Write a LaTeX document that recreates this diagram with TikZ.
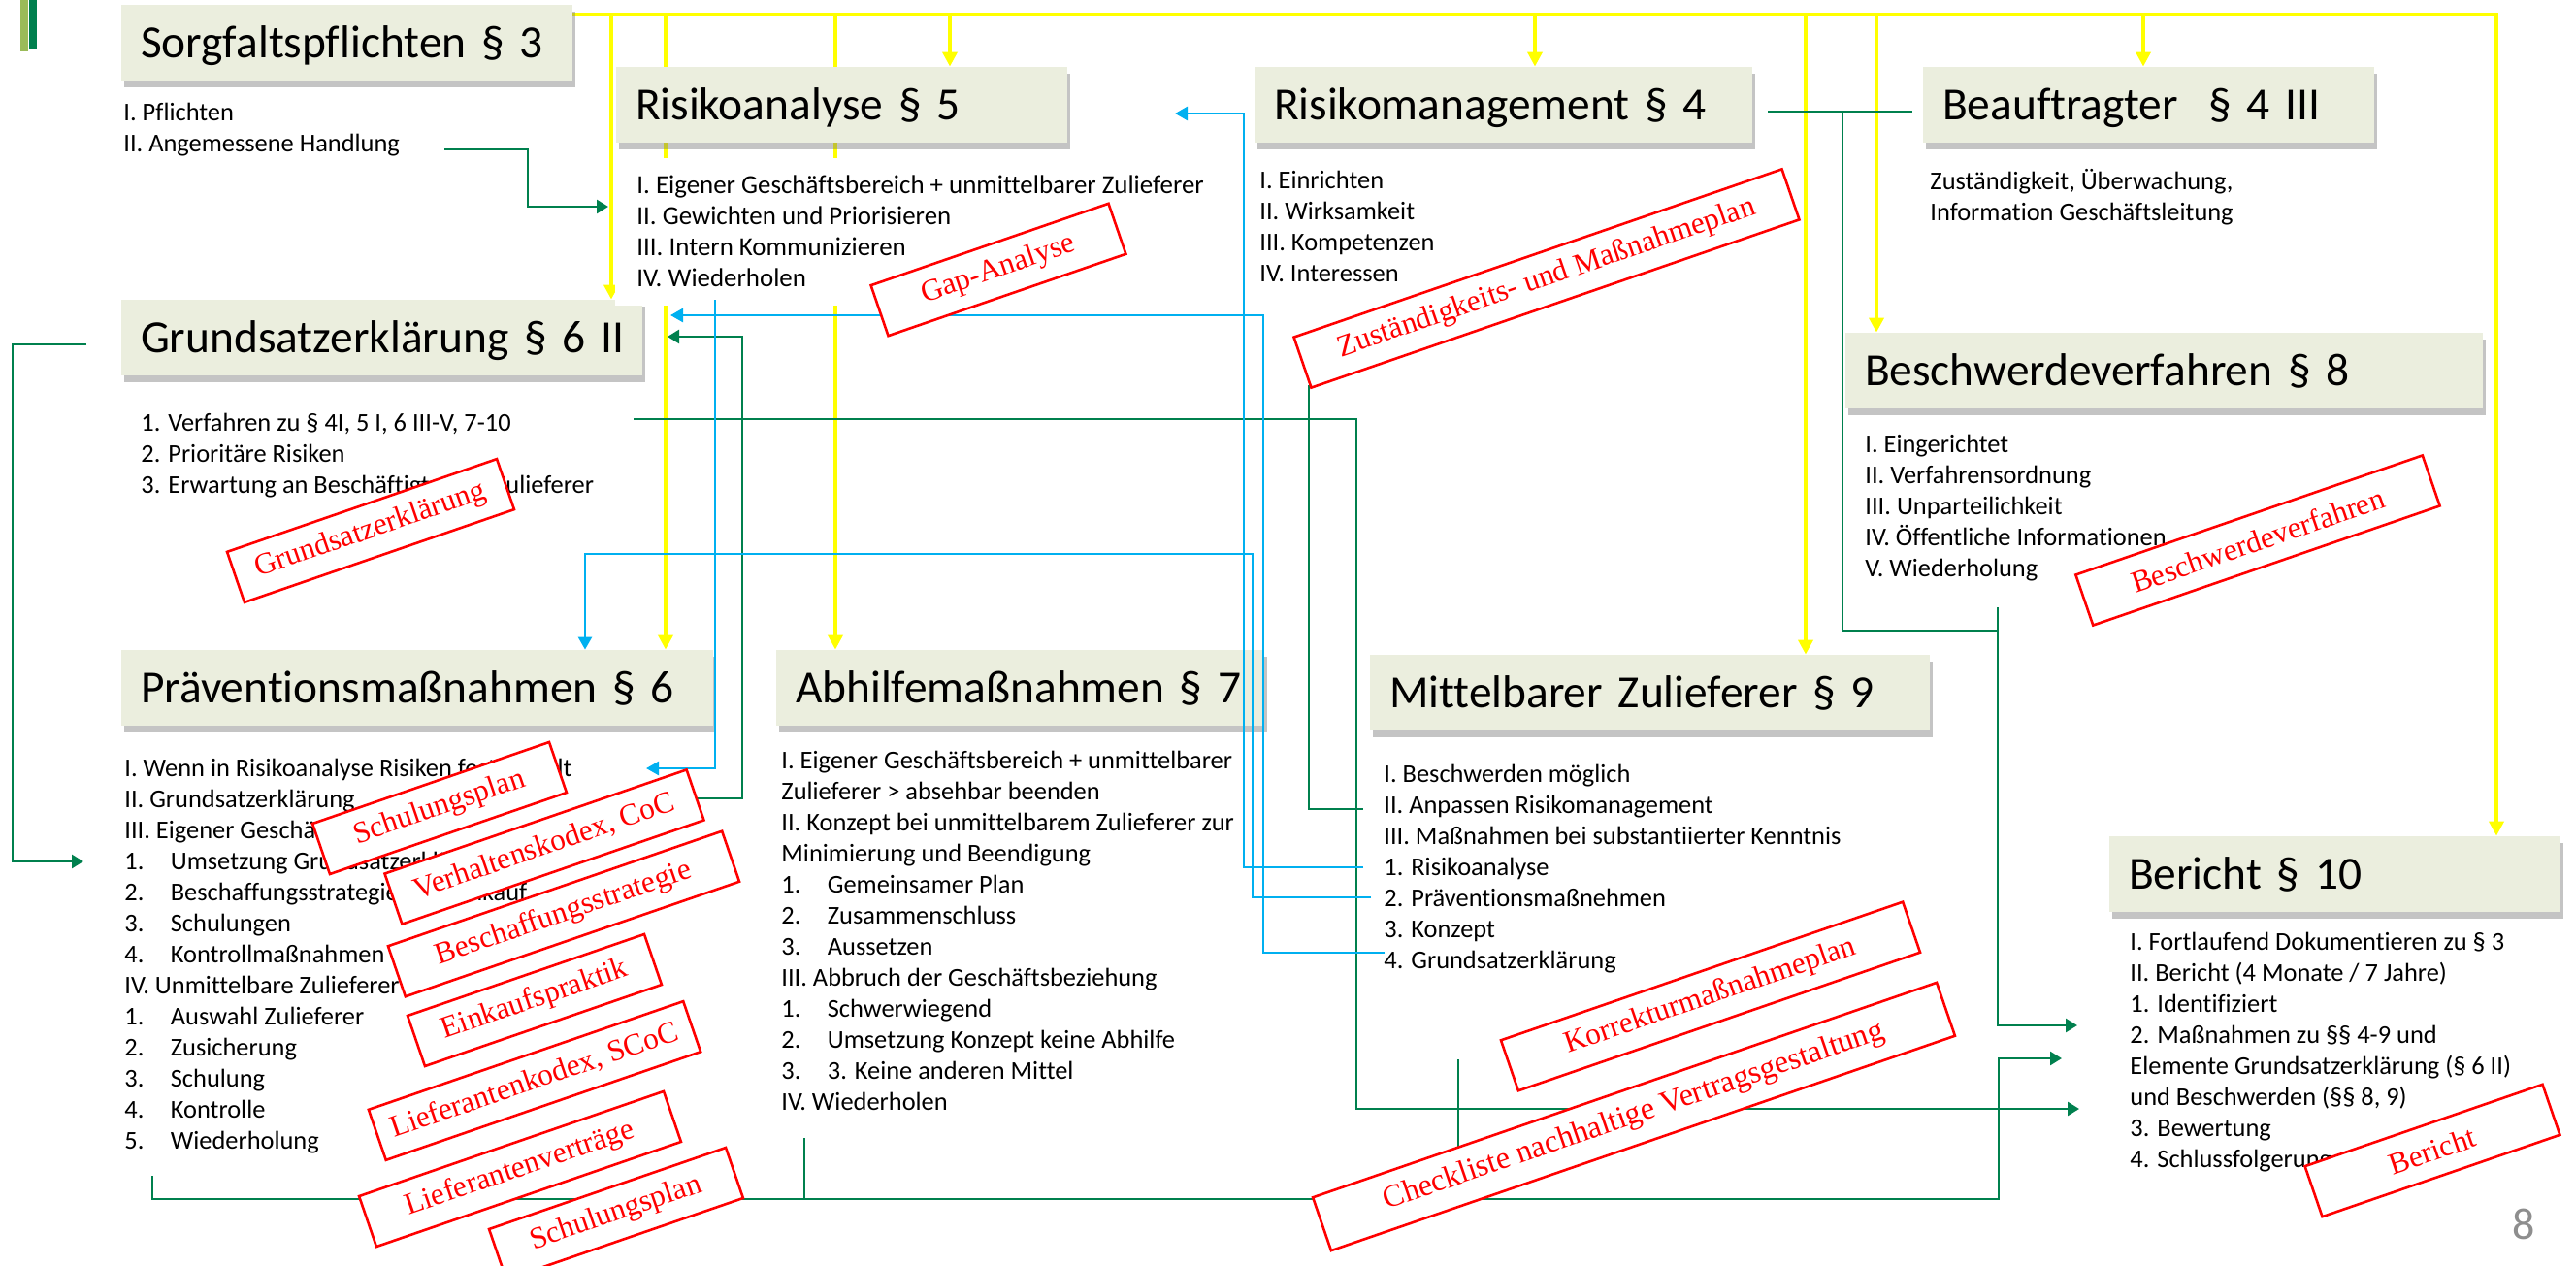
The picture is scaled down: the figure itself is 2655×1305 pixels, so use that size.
\documentclass[tikz,border=0pt]{standalone}
\usepackage{fontspec}
\setmainfont{Carlito}[Ligatures={NoCommon}]
\newfontfamily\serifstamp{Liberation Serif}
\usetikzlibrary{arrows.meta,shadows}
\pgfdeclarelayer{paper}
\pgfdeclarelayer{behind}
\pgfsetlayers{paper,behind,main}
\definecolor{boxfill}{HTML}{EBEEDE}
\definecolor{lyellow}{HTML}{FFFF00}
\definecolor{lgreen}{RGB}{0,128,78}
\definecolor{lcyan}{HTML}{00B0F0}
\definecolor{stampred}{HTML}{FF0000}
\definecolor{barlight}{RGB}{155,187,89}
\definecolor{pagegray}{HTML}{8E8E8E}
\newcommand\titlefont{\fontsize{23.7pt}{28pt}\selectfont}
\newcommand\bodyfont{\fontsize{13.2pt}{16pt}\selectfont}
\newcommand\bodyfontb{\fontsize{13.45pt}{16pt}\selectfont}
\newcommand\stampfont{\serifstamp\fontsize{15.7pt}{18pt}\selectfont}
\newcommand\mystrutA{\rule{0pt}{12pt}}
\newcommand\itm[1]{\makebox[23.75pt][l]{#1}}
\tikzset{
  tbox/.style={fill=boxfill, inner xsep=10pt, inner ysep=0pt, minimum height=39pt,
    text height=15.3pt, text depth=0pt, align=left, font=\titlefont,
    drop shadow={shadow xshift=1.5pt, shadow yshift=-3.5pt, fill=black!55, opacity=0.42}},
  body/.style={inner sep=0pt, align=left, anchor=north west, font=\bodyfont},
  stamp/.style={draw=stampred, line width=1.3pt, fill=white, rotate=19, inner sep=0pt,
    minimum height=27.5pt, text=stampred, font=\stampfont},
  yl/.style={draw=lyellow, line width=2pt},
  yla/.style={yl, -{Triangle[length=7.5pt,width=7.5pt]}},
  gr/.style={draw=lgreen, line width=1.3pt},
  gra/.style={gr, -{Triangle[length=6pt,width=7pt]}},
  cy/.style={draw=lcyan, line width=1.3pt},
  cya/.style={cy, -{Triangle[length=6.5pt,width=7pt]}},
}
\begin{document}
\begin{tikzpicture}[x=0.5pt, y=-0.5pt]
\begin{pgfonlayer}{paper}
\fill[white] (0,0) rectangle (2655,1305);
\end{pgfonlayer}
\useasboundingbox (0,0) rectangle (2655,1305);
% decorative bars
\fill[barlight] (21,0) rectangle (29,53);
\fill[lgreen] (30,0) rectangle (38,51);

% title boxes
\node[tbox, text width=212.5pt] (sorg) at (357.5,44) {\mbox{Sorgfaltspflichten § 3}};
\node[tbox, text width=212.5pt] (ra) at (867.5,108) {\mbox{Risikoanalyse § 5}};
\node[tbox, text width=236.5pt] (rm) at (1549.5,108) {\mbox{Risikomanagement § 4}};
\node[tbox, text width=212.5pt] (bea) at (2214.5,108) {\mbox{Beauftragter\ \ § 4 III}};
\node[tbox, text width=248.5pt] (gs) at (393.5,348) {\mbox{Grundsatzerklärung § 6 II}};
\node[tbox, text width=285pt] (pm) at (430,709) {\mbox{Präventionsmaßnahmen § 6}};
\node[tbox, text width=231.5pt] (ah) at (1051.5,709) {\mbox{Abhilfemaßnahmen § 7}};
\node[tbox, text width=268.5pt] (mz) at (1700.5,714) {\mbox{Mittelbarer Zulieferer § 9}};
\node[tbox, text width=308.5pt] (bv) at (2230.5,382) {\mbox{Beschwerdeverfahren § 8}};
\node[tbox, text width=212.5pt] (ber) at (2406.5,901) {\mbox{Bericht § 10}};

% yellow connectors, behind the boxes
\begin{pgfonlayer}{behind}
\draw[yla] (sorg.east |- 0,15) -- (2573,15) -- (2573,15 |- ber.north);
\draw[yla] (630,15) -- (630,15 |- gs.north);
\draw[yla] (686,15) -- (686,15 |- pm.north);
\draw[yla] (861,15) -- (861,15 |- ah.north);
\draw[yla] (979,15) -- (979,15 |- ra.north);
\draw[yla] (1582,15) -- (1582,15 |- rm.north);
\draw[yla] (1861,15) -- (1861,15 |- mz.north);
\draw[yla] (1934,15) -- (1934,15 |- bv.north);
\draw[yla] (2209,15) -- (2209,15 |- bea.north);
\end{pgfonlayer}

% white text field of Risikoanalyse
\fill[white] (634,163) rectangle (1260,315);

% body texts
\node[body] (sorgtxt) at (127,100) {\mystrutA I. Pflichten\\II. Angemessene Handlung};
\node[body, font=\bodyfontb] (ratxt) at (656,175) {\mystrutA I. Eigener Geschäftsbereich + unmittelbarer Zulieferer\\II. Gewichten und Priorisieren\\III. Intern Kommunizieren\\IV. Wiederholen};
\node[body] (rmtxt) at (1298,170) {\mystrutA I. Einrichten\\II. Wirksamkeit\\III. Kompetenzen\\IV. Interessen};
\node[body] (beatxt) at (1989,171) {\mystrutA Zuständigkeit, Überwachung,\\Information Geschäftsleitung};
\node[body] (gstxt) at (145,420) {\mystrutA 1. Verfahren zu § 4I, 5 I, 6 III-V, 7-10\\2. Prioritäre Risiken\\3. Erwartung an Beschäftigte und Zulieferer};
\node[body] (bvtxt) at (1922,442) {\mystrutA I. Eingerichtet\\II. Verfahrensordnung\\III. Unparteilichkeit\\IV. Öffentliche Informationen\\V. Wiederholung};
\node[body] (pmtxt) at (128,776) {\mystrutA I. Wenn in Risikoanalyse Risiken festgestellt\\II. Grundsatzerklärung\\III. Eigener Geschäftsbereich\\
  \itm{1.}Umsetzung Grundsatzerklärung\\\itm{2.}Beschaffungsstrategie und Einkauf\\\itm{3.}Schulungen\\\itm{4.}Kontrollmaßnahmen\\
  IV. Unmittelbare Zulieferer\\\itm{1.}Auswahl Zulieferer\\\itm{2.}Zusicherung\\\itm{3.}Schulung\\\itm{4.}Kontrolle\\\itm{5.}Wiederholung};
\node[body] (ahtxt) at (805,768) {\mystrutA I. Eigener Geschäftsbereich + unmittelbarer\\Zulieferer > absehbar beenden\\II. Konzept bei unmittelbarem Zulieferer zur\\Minimierung und Beendigung\\
  \itm{1.}Gemeinsamer Plan\\\itm{2.}Zusammenschluss\\\itm{3.}Aussetzen\\III. Abbruch der Geschäftsbeziehung\\
  \itm{1.}Schwerwiegend\\\itm{2.}Umsetzung Konzept keine Abhilfe\\\itm{3.}3. Keine anderen Mittel\\IV. Wiederholen};
\node[body] (mztxt) at (1426,782) {\mystrutA I. Beschwerden möglich\\II. Anpassen Risikomanagement\\III. Maßnahmen bei substantiierter Kenntnis\\1. Risikoanalyse\\2. Präventionsmaßnehmen\\3. Konzept\\4. Grundsatzerklärung};
\node[body] (bertxt) at (2195,955) {\mystrutA I. Fortlaufend Dokumentieren zu § 3\\II. Bericht (4 Monate / 7 Jahre)\\1. Identifiziert\\2. Maßnahmen zu §§ 4-9 und\\Elemente Grundsatzerklärung (§ 6 II)\\und Beschwerden (§§ 8, 9)\\3. Bewertung\\4. Schlussfolgerungen};

% free ends of connectors
\coordinate (g1s) at (458,154);  \coordinate (g1e) at (627,213);
\coordinate (g2s) at (89,355);   \coordinate (g2e) at (86,888);
\coordinate (g3s) at (653,432);  \coordinate (g3e) at (2143,1143);
\coordinate (g4s) at (1349,397); \coordinate (g4e) at (1405,834);
\coordinate (g5s) at (1822,115); \coordinate (g5e) at (1971,115);
\coordinate (g5j) at (1899,115); \coordinate (g5k) at (2059,650);
\coordinate (g5m) at (2059,626); \coordinate (g5n) at (2141,1057);
\coordinate (g6s) at (157,1212); \coordinate (g6e) at (2125,1091);
\coordinate (g6a) at (829,1173); \coordinate (g6b) at (1503,1092);
\coordinate (g7s) at (705,823);  \coordinate (g7e) at (688,347);
\coordinate (c1s) at (1405,894); \coordinate (c1e) at (1211,117);
\coordinate (c2s) at (1413,925);
\coordinate (c3s) at (1427,982); \coordinate (c3e) at (691,325);
\coordinate (c4s) at (737,309);  \coordinate (c4e) at (666,792);

% green connectors
\draw[gra] (g1s) -- (544,154) -- (544,213) -- (g1e);
\draw[gra] (g2s) -- (13,355) -- (13,888) -- (g2e);
\draw[gra] (g3s) -- (1398,432) -- (1398,1143) -- (g3e);
\draw[gr] (g4s) -- (1349,834) -- (g4e);
\draw[gr] (g5s) -- (g5e);
\draw[gr] (g5j) -- (1899,650) -- (g5k);
\draw[gra] (g5m) -- (2059,1057) -- (g5n);
\draw[gra] (g6s) -- (157,1236) -- (2060,1236) -- (2060,1091) -- (g6e);
\draw[gr] (g6a) -- (829,1236);
\draw[gr] (g6b) -- (1503,1236);
\draw[gra] (g7s) -- (765,823) -- (765,347) -- (g7e);

% cyan connectors
\draw[cya] (c1s) -- (1282,894) -- (1282,117) -- (c1e);
\draw[cya] (c2s) -- (1291,925) -- (1291,571) -- (603,571) -- (603,571 |- pm.north);
\draw[cya] (c3s) -- (1302,982) -- (1302,325) -- (c3e);
\draw[cya] (c4s) -- (737,792) -- (c4e);

% red stamps
\node[stamp, minimum width=129.5pt] (st1) at (1029,278) {Gap-Analyse};
\node[stamp, minimum width=266pt] (st2) at (1594,287) {Zuständigkeits- und Maßnahmeplan};
\node[stamp, minimum width=147pt] (st3) at (382,547) {Grundsatzerklärung};
\node[stamp, minimum width=189pt] (st4) at (2327,557) {Beschwerdeverfahren};
\node[stamp, minimum width=129pt] (st5) at (453,833) {Schulungsplan};
\node[stamp, minimum width=164.5pt] (st6) at (561,873) {Verhaltenskodex, CoC};
\node[stamp, minimum width=182pt] (st7) at (581,942) {Beschaffungsstrategie};
\node[stamp, minimum width=129pt] (st8) at (551,1031) {Einkaufspraktik};
\node[stamp, minimum width=171.5pt] (st9) at (551,1114) {Lieferantenkodex, SCoC};
\node[stamp, minimum width=166pt] (st10) at (536,1205) {Lieferantenverträge};
\node[stamp, minimum width=129pt] (st11) at (635,1251) {Schulungsplan};
\node[stamp, minimum width=219pt] (st12) at (1763,1027) {Korrekturmaßnahmeplan};
\node[stamp, minimum width=340pt, minimum height=29pt, font=\serifstamp\fontsize{16.2pt}{19pt}\selectfont] (st13) at (1684,1151) {Checkliste nachhaltige Vertragsgestaltung};
\node[stamp, minimum width=129.5pt] (st14) at (2507,1186) {Bericht};

% page number
\node[font=\fontsize{23pt}{26pt}\selectfont, text=pagegray, inner sep=0pt] (pg) at (2601,1262) {8};
\end{tikzpicture}
\end{document}
